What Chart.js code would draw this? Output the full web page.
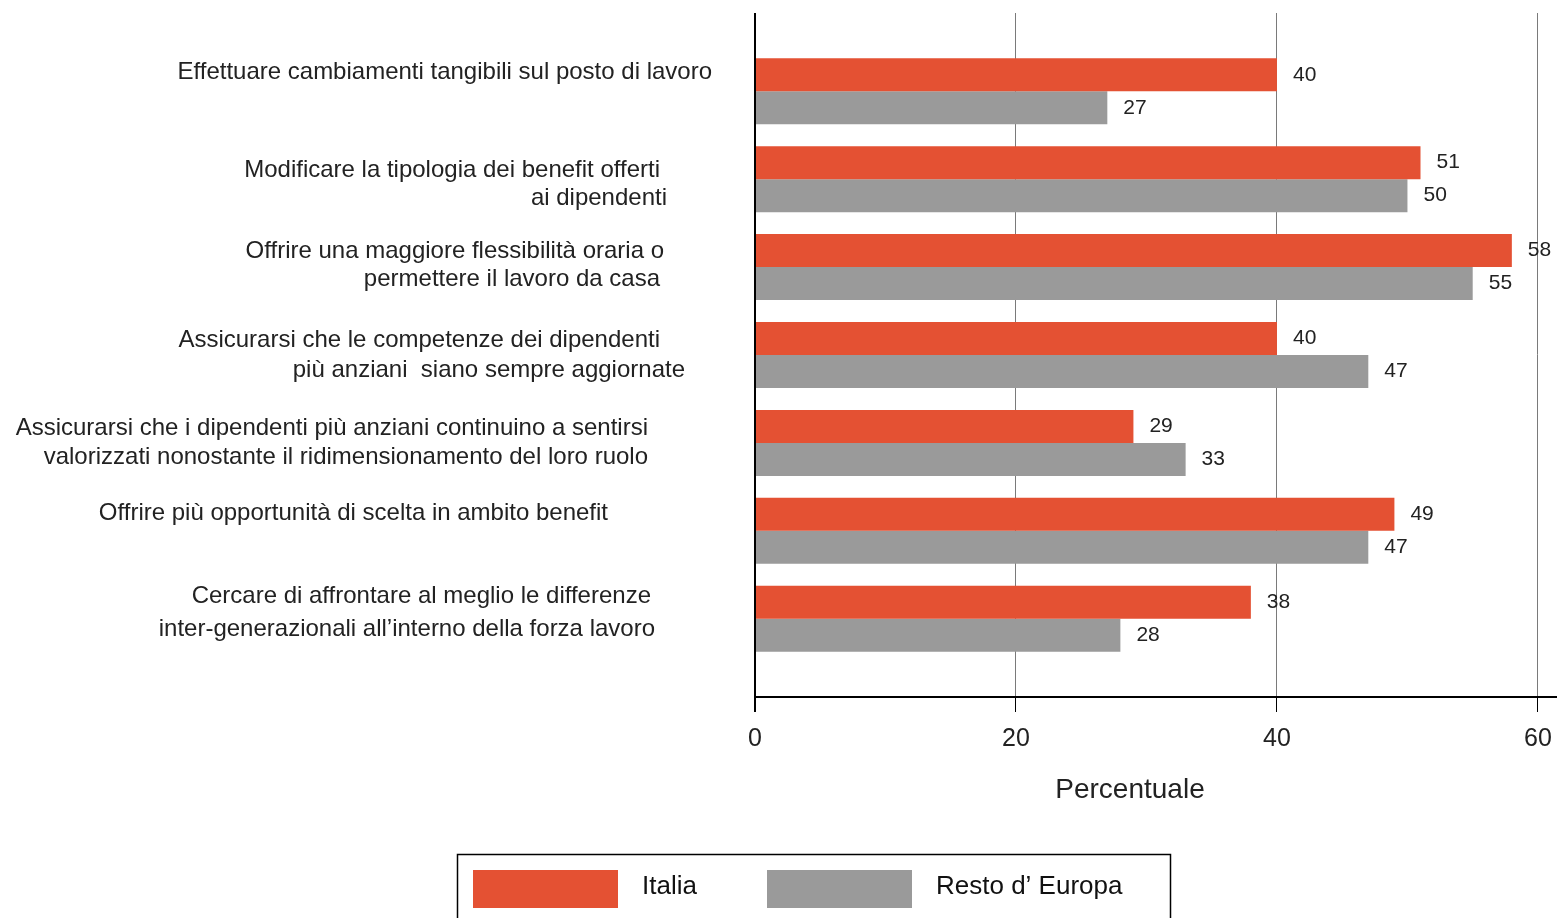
<!DOCTYPE html>
<html>
<head>
<meta charset="utf-8">
<script src="https://cdn.jsdelivr.net/npm/chart.js@4.4.1/dist/chart.umd.min.js"></script>
<style>
  html, body { margin: 0; padding: 0; background: #fff; }
  canvas { display: block; }
</style>
</head>
<body>
<canvas id="chart" width="1557" height="918"></canvas>
<script>
const categories = [
    ['Effettuare cambiamenti tangibili sul posto di lavoro'],
    ['Modificare la tipologia dei benefit offerti', 'ai dipendenti'],
    ['Offrire una maggiore flessibilità oraria o', 'permettere il lavoro da casa'],
    ['Assicurarsi che le competenze dei dipendenti', 'più anziani  siano sempre aggiornate'],
    ['Assicurarsi che i dipendenti più anziani continuino a sentirsi', 'valorizzati nonostante il ridimensionamento del loro ruolo'],
    ['Offrire più opportunità di scelta in ambito benefit'],
    ['Cercare di affrontare al meglio le differenze', 'inter-generazionali all’interno della forza lavoro']
];
const italia = [40, 51, 58, 40, 29, 49, 38];
const restoEuropa = [27, 50, 55, 47, 33, 47, 28];
const seriesNames = ['Italia', 'Resto d’ Europa'];
const xTicks = [0, 20, 40, 60];
const axisTitle = 'Percentuale';

const RED = '#e45133';
const GREY = '#9a9a9a';
const TEXT = '#222';
const FAMILY = '"Liberation Sans", Arial, sans-serif';

// right edge + vertical offset (from bar group centre) of each label line
const labelLayout = [
    [[712, -19]],
    [[660, -9], [667, 19]],
    [[664, -16], [660, 12]],
    [[660, -15], [685, 15]],
    [[648, -15], [648, 14]],
    [[608, -17]],
    [[651, -22], [655, 11]]
];

Chart.defaults.font.family = FAMILY;
Chart.defaults.color = TEXT;

const categoryLabels = {
    id: 'categoryLabels',
    afterDraw(chart) {
        const { ctx, scales: { y } } = chart;
        ctx.save();
        ctx.font = '24px ' + FAMILY;
        ctx.fillStyle = TEXT;
        ctx.textAlign = 'right';
        ctx.textBaseline = 'middle';
        categories.forEach((lines, i) => {
            const cy = y.getPixelForValue(i);
            lines.forEach((line, j) => {
                const [rx, dy] = labelLayout[i][j];
                ctx.fillText(line, rx, cy + dy);
            });
        });
        ctx.restore();
    }
};

const valueLabels = {
    id: 'valueLabels',
    afterDatasetsDraw(chart) {
        const { ctx } = chart;
        ctx.save();
        ctx.font = '21px ' + FAMILY;
        ctx.fillStyle = TEXT;
        ctx.textAlign = 'left';
        ctx.textBaseline = 'middle';
        chart.data.datasets.forEach((ds, d) => {
            chart.getDatasetMeta(d).data.forEach((bar, i) => {
                ctx.fillText(String(ds.data[i].x), bar.x + 16, bar.y);
            });
        });
        ctx.restore();
    }
};

// axis title and boxed legend under the plot
const bottomBlock = {
    id: 'bottomBlock',
    afterDraw(chart) {
        const { ctx } = chart;
        const swatchX = [473, 767], textX = [642, 936];
        ctx.save();
        ctx.fillStyle = TEXT;
        ctx.font = '28px ' + FAMILY;
        ctx.textAlign = 'center';
        ctx.textBaseline = 'middle';
        ctx.fillText(axisTitle, 1130, 790);

        ctx.strokeStyle = '#000';
        ctx.lineWidth = 1.5;
        ctx.strokeRect(457.5, 854.5, 713, 90);
        ctx.font = '26px ' + FAMILY;
        ctx.textAlign = 'left';
        chart.data.datasets.forEach((ds, d) => {
            ctx.fillStyle = ds.backgroundColor;
            ctx.fillRect(swatchX[d], 870, 145, 38);
            ctx.fillStyle = '#111';
            ctx.fillText(ds.label, textX[d], 887);
        });
        ctx.restore();
    }
};

new Chart(document.getElementById('chart'), {
    type: 'bar',
    data: {
        datasets: [
            { label: seriesNames[0], data: italia.map((v, i) => ({ x: v, y: i })), backgroundColor: RED },
            { label: seriesNames[1], data: restoEuropa.map((v, i) => ({ x: v, y: i })), backgroundColor: GREY }
        ]
    },
    options: {
        indexAxis: 'y',
        responsive: false,
        animation: false,
        devicePixelRatio: 1,
        categoryPercentage: 0.75,
        barPercentage: 1,
        layout: { padding: { top: 13, left: 0, right: 0, bottom: 0 } },
        plugins: { legend: { display: false }, tooltip: { enabled: false } },
        scales: {
            x: {
                type: 'linear',
                min: 0,
                max: 61.46,
                afterFit: s => { s.height = 221; s.paddingLeft = 0; s.paddingRight = 0; },
                afterBuildTicks: s => { s.ticks = xTicks.map(v => ({ value: v })); },
                ticks: { font: { size: 25 }, color: TEXT, padding: 12 },
                grid: {
                    color: c => (c.tick && c.tick.value === 0) ? '#000' : '#7a7a7a',
                    lineWidth: c => (c.tick && c.tick.value === 0) ? 2 : 1,
                    tickColor: '#000',
                    tickLength: 15
                },
                border: { color: '#000', width: 2 }
            },
            y: {
                type: 'linear',
                min: -0.89,
                max: 6.89,
                reverse: true,
                offset: false,
                afterFit: s => { s.width = 755; },
                afterBuildTicks: s => { s.ticks = categories.map((_, i) => ({ value: i })); },
                ticks: { display: false },
                grid: { display: false, offset: false },
                border: { display: false }
            }
        }
    },
    plugins: [categoryLabels, valueLabels, bottomBlock]
});
</script>
</body>
</html>
